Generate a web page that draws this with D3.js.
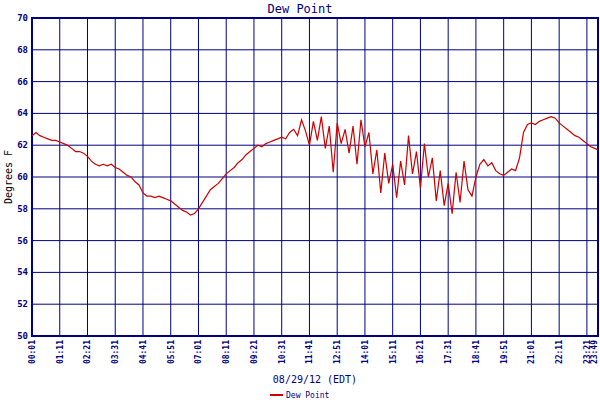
<!DOCTYPE html>
<html><head><meta charset="utf-8">
<script src="https://cdn.jsdelivr.net/npm/d3@7"></script>
<style>body{margin:0;background:#fff}text{font-family:"DejaVu Sans Mono",monospace;fill:#000080}</style>
</head><body><div id="chart"></div>
<script>
// dew point every 10 minutes from 00:01 (last one at 23:49)
var dewPoint = [62.6,62.8,62.6,62.5,62.4,62.3,62.3,62.2,
	62.1,62.0,61.8,61.6,61.6,61.5,
	61.3,61.0,60.8,60.7,60.8,60.7,60.8,
	60.6,60.5,60.3,60.1,60.0,59.7,59.5,
	59.0,58.8,58.8,58.7,58.8,58.7,58.6,
	58.5,58.3,58.1,57.9,57.8,57.6,57.7,
	58.0,58.4,58.8,59.2,59.4,59.6,59.9,
	60.2,60.4,60.6,60.9,61.1,61.4,61.6,
	61.8,62.0,61.9,62.1,62.2,62.3,62.4,
	62.5,62.4,62.8,63.0,62.6,63.6,62.9,
	62.0,63.5,62.3,63.8,61.8,63.2,60.3,
	63.4,62.1,63.0,61.5,63.2,60.8,63.6,
	61.9,62.8,60.2,61.7,59.0,61.5,59.6,
	60.8,58.7,61.0,59.5,62.6,60.2,61.6,
	59.3,62.1,60.0,61.2,58.5,60.4,58.2,
	59.6,57.7,60.3,58.4,61.0,59.2,58.8,
	60.0,60.8,61.1,60.7,60.9,60.4,60.2,
	60.1,60.3,60.5,60.4,61.2,62.8,63.3,
	63.4,63.3,63.5,63.6,63.7,63.8,63.7,
	63.4,63.2,63.0,62.8,62.6,62.5,62.3,
	62.1,61.9,61.8,61.7];
var tickMinutes = [1,71,141,211,281,351,421,491,561,631,701,771,841,911,981,1051,1121,1191,1261,1331,1401,1429];
var yTicks = [50,52,54,56,58,60,62,64,66,68,70];

var W = 600, H = 400, L = 32, R = 598, T = 18, B = 336;
var svg = d3.select('#chart').append('svg').attr('width', W).attr('height', H);

var x = d3.scaleLinear().domain([1, 1429]).range([L, R]);
var y = d3.scaleLinear().domain([50, 70]).range([B, T]);
function fmt(m){ return d3.format('02')(Math.floor(m/60)) + ':' + d3.format('02')(m%60); }

var navy = '#000080';
svg.selectAll('.vg').data(tickMinutes).enter().append('line')
	.attr('x1', d => x(d)).attr('x2', d => x(d)).attr('y1', T).attr('y2', B)
	.attr('stroke', navy).attr('stroke-width', 1);
svg.selectAll('.hg').data(yTicks).enter().append('line')
	.attr('x1', L).attr('x2', R).attr('y1', d => y(d)).attr('y2', d => y(d))
	.attr('stroke', navy).attr('stroke-width', 1);
svg.append('rect').attr('x', L).attr('y', T).attr('width', R - L).attr('height', B - T)
	.attr('fill', 'none').attr('stroke', navy).attr('stroke-width', 2);

svg.selectAll('.yl').data(yTicks).enter().append('text')
	.attr('x', L - 4).attr('y', d => y(d) + 3).attr('text-anchor', 'end')
	.attr('font-size', 9).attr('font-weight', 'bold').text(d => d);
svg.selectAll('.xl').data(tickMinutes).enter().append('text')
	.attr('transform', d => 'translate(' + Math.min(x(d) + 3, 597) + ',' + (B + 4) + ') rotate(-90)')
	.attr('text-anchor', 'end').attr('font-size', 8).attr('font-weight', 'bold').text(fmt);

svg.append('text').attr('x', W / 2).attr('y', 13).attr('text-anchor', 'middle')
	.attr('font-size', 12).text('Dew Point');
svg.append('text').attr('x', W / 2 + 15).attr('y', 383).attr('text-anchor', 'middle')
	.attr('font-size', 10).text('08/29/12 (EDT)');
svg.append('text').attr('transform', 'translate(12,' + ((T + B) / 2) + ') rotate(-90)')
	.attr('text-anchor', 'middle').attr('font-size', 10).style('fill', '#000').text('Degrees F');

var line = d3.line().x((d, i) => x(Math.min(1 + 10 * i, 1429))).y(d => y(d));
svg.append('path').datum(dewPoint).attr('d', line)
	.attr('fill', 'none').attr('stroke', '#cc0000').attr('stroke-width', 1.2);

svg.append('line').attr('x1', 270).attr('x2', 283).attr('y1', 395).attr('y2', 395)
	.attr('stroke', '#cc0000').attr('stroke-width', 2);
svg.append('text').attr('x', 286).attr('y', 398).attr('font-size', 8).text('Dew Point');
</script></body></html>
